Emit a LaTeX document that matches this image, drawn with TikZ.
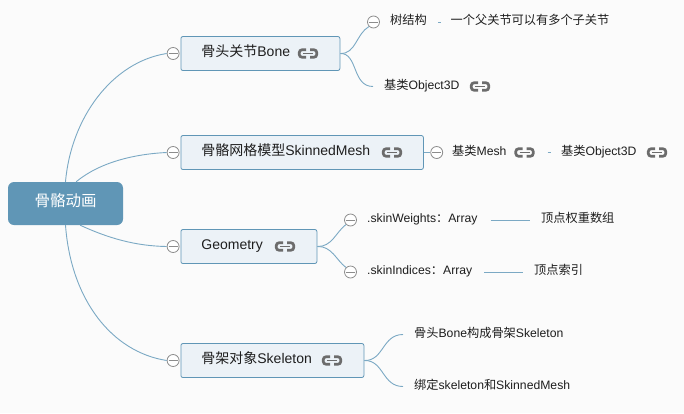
\documentclass[tikz,border=0pt]{standalone}
\usepackage{fontspec}
\setmainfont{Liberation Sans}
\newfontfamily\cjkfont{Noto Sans CJK SC}
\newcommand{\cn}[1]{{\cjkfont #1}}
\usetikzlibrary{positioning}
\definecolor{pagebg}{HTML}{FBFBFB}
\definecolor{rootblue}{HTML}{6096B6}
\definecolor{boxblue}{HTML}{ECF2F7}
\definecolor{linegray}{HTML}{8C8C8C}
\definecolor{chaingray}{HTML}{6C6C6C}
\definecolor{branchblue}{HTML}{7BA9C4}
\definecolor{inkgray}{HTML}{1E1E1E}
\tikzset{rootbox/.style = {fill=rootblue, rounded corners=6pt, text=white, inner sep=0, minimum width=115pt, minimum height=43pt, text height=12pt, text depth=6pt, font=\fontsize{15.5}{18}\selectfont}}
\tikzset{topicbox/.style = {draw=rootblue, fill=boxblue, text=inkgray, line width=0.8pt, rounded corners=2pt, anchor=west, align=left, inner xsep=20.5pt, inner ysep=0, minimum height=34pt, text height=11pt, text depth=5pt, font=\fontsize{14}{16}\selectfont}}
\tikzset{leaf/.style = {anchor=west, inner sep=0, text=inkgray, text height=10pt, text depth=5pt, font=\fontsize{12.2}{14}\selectfont}}
\tikzset{fold/.style = {circle, draw=linegray, fill=white, line width=0.8pt, inner sep=0, minimum size=12pt, path picture={\draw[linegray, line width=0.8pt] ([xshift=-4.5pt]path picture bounding box.center) -- ([xshift=4.5pt]path picture bounding box.center);}}}
\tikzset{branch/.style = {draw=branchblue, line width=0.9pt}}
\tikzset{linkicon/.pic = {
      \draw[chaingray, line width=2.7pt, rounded corners=3pt] (-2,-3.8) -- (-8.8,-3.8) -- (-8.8,3.8) -- (-2,3.8);
      \draw[chaingray, line width=2.7pt, rounded corners=3pt] (2,-3.8) -- (8.8,-3.8) -- (8.8,3.8) -- (2,3.8);
      \draw[chaingray, line width=1.7pt] (-5,0) -- (5,0);
}}

\begin{document}
\begin{tikzpicture}[x=1pt, y=-1pt]
      \fill[pagebg] (0,0) rectangle (684,413);
      \useasboundingbox (0,0) rectangle (684,413);

      \node [rootbox] (root) at (65.5, 203.5) {\cn{骨骼动画}};

      \node [topicbox, text width=118pt] (bone) at (180.5, 53.5) {\cn{骨头关节}Bone};
      \node [topicbox, text width=201.5pt] (mesh) at (180.5, 152.5) {\cn{骨骼网格模型}SkinnedMesh};
      \node [topicbox, text width=95pt] (geom) at (180.5, 246.5) {Geometry};
      \node [topicbox, text width=142pt] (skel) at (180.5, 360.5) {\cn{骨架对象}Skeleton};

      \node [fold, left=1pt of bone] (foldbone) {};
      \node [fold, left=1pt of mesh] (foldmesh) {};
      \node [fold, left=1pt of geom] (foldgeom) {};
      \node [fold, left=1pt of skel] (foldskel) {};

      \draw [branch] (root.north) .. controls (71,118) and (112,62) .. (foldbone.west);
      \draw [branch] (root.64) .. controls (100,162) and (135,154) .. (foldmesh.west);
      \draw [branch] (root.-56) .. controls (108,238) and (135,246) .. (foldgeom.west);
      \draw [branch] (root.south) .. controls (71,300) and (112,352) .. (foldskel.west);

      % first topic
      \node [fold] (foldtree) at (373.5, 22) {};
      \node [leaf] (tree) at (390, 22) {\cn{树结构}};
      \node [leaf] (treenote) at (450.5, 22) {\cn{一个父关节可以有多个子关节}};
      \coordinate (boneend) at (373, 86.5);
      \node [leaf] (bonebase) at (384, 86.5) {\cn{基类}Object3D};
      \pic at (480, 86.5) {linkicon};
      \draw [branch] (bone.east) .. controls (356,54) and (356,34) .. (foldtree.225);
      \draw [branch] (bone.east) .. controls (358,53) and (352,86.5) .. (boneend);
      \draw [branch, shorten <=11pt, shorten >=9.5pt] (tree.east) -- (treenote.west);

      % second topic
      \node [fold, right=6.5pt of mesh] (foldbase) {};
      \node [leaf] (meshbase) at (452, 152.5) {\cn{基类}Mesh};
      \node [leaf] (objbase) at (561, 152.5) {\cn{基类}Object3D};
      \pic at (524.5, 152.5) {linkicon};
      \pic at (657, 152.5) {linkicon};
      \draw [branch] (mesh.east) -- (foldbase.west);
      \draw [branch, shorten <=41pt, shorten >=10pt] (meshbase.east) -- (objbase.west);

      % third topic
      \node [fold] (foldweights) at (350.5, 220) {};
      \node [fold] (foldindices) at (350.5, 272) {};
      \node [leaf] (weights) at (367, 220) {.skinWeights\cn{：}Array};
      \node [leaf] (indices) at (367, 272) {.skinIndices\cn{：}Array};
      \node [leaf] (weightsnote) at (541, 220) {\cn{顶点权重数组}};
      \node [leaf] (indicesnote) at (534, 272) {\cn{顶点索引}};
      \draw [branch] (geom.east) .. controls (332,247) and (336,232) .. (foldweights.225);
      \draw [branch] (geom.east) .. controls (332,246) and (336,260) .. (foldindices.135);
      \draw [branch, shorten <=13pt, shorten >=11pt] (weights.east) -- (weightsnote.west);
      \draw [branch, shorten <=12pt, shorten >=11pt] (indices.east) -- (indicesnote.west);

      % fourth topic
      \coordinate (skelup) at (403, 334.5);
      \coordinate (skeldown) at (403, 386.5);
      \node [leaf] (form) at (414, 334.5) {\cn{骨头}Bone\cn{构成骨架}Skeleton};
      \node [leaf] (bind) at (414, 386.5) {\cn{绑定}skeleton\cn{和}SkinnedMesh};
      \draw [branch] (skel.east) .. controls (384,361) and (382,334.5) .. (skelup);
      \draw [branch] (skel.east) .. controls (384,360) and (382,386.5) .. (skeldown);

      \pic at (308, 53.5) {linkicon};
      \pic at (392, 152.5) {linkicon};
      \pic at (285, 246.5) {linkicon};
      \pic at (332, 360.5) {linkicon};
    \end{tikzpicture}
\end{document}
